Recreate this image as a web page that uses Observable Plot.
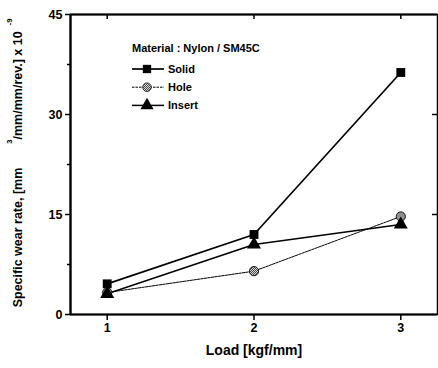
<!DOCTYPE html>
<html><head><meta charset="utf-8">
<script src="https://cdn.jsdelivr.net/npm/d3@7"></script>
<script src="https://cdn.jsdelivr.net/npm/@observablehq/plot@0.6"></script>
<style>body{margin:0;background:#fff}</style>
</head><body><div id="chart"></div>
<script>
// ---- data ----
const loads = [1, 2, 3];
const seriesNames = ["Solid", "Hole", "Insert"];
const solid = [4.6, 12.0, 36.3];
const hole = [3.3, 6.5, 14.7];
const insert = [3.1, 10.5, 13.5];
const yTicks = [0, 15, 30, 45];
const yMinorTicks = [7.5, 22.5, 37.5];
const yRightTicks = [15, 30];
const xTicks = [1, 2, 3];
const legendTitle = "Material : Nylon / SM45C";
const xLabel = "Load [kgf/mm]";
const yLabelMain = "Specific wear rate, [mm";
const yLabelSup1 = "3";
const yLabelMid = "/mm/mm/rev.] x 10";
const yLabelSup2 = "-9";

const values = {Solid: solid, Hole: hole, Insert: insert};
const rows = seriesNames.flatMap(s => loads.map((x, j) => ({series: s, load: x, rate: values[s][j]})));
const of = s => rows.filter(d => d.series === s);

const W = 438, H = 368, mL = 70, mR = 1, mT = 14, mB = 54;
const plotW = W - mL - mR, plotH = H - mT - mB;

const style = {
  Solid:  {symbol: "square",   fill: "black",       r: 5.0, lw: 1.7, dash: null},
  Hole:   {symbol: "circle",   fill: "url(#hatch)", r: 4.6, lw: 1.0, dash: "2.5,1"},
  Insert: {symbol: "triangle", fill: "black",       r: 5.2, lw: 1.5, dash: null}
};

function decorations(index, scales, vals, dims) {
  const g = d3.create("svg:g");
  const defs = g.append("defs");
  const pat = defs.append("pattern").attr("id", "hatch").attr("patternUnits", "userSpaceOnUse")
    .attr("width", 2).attr("height", 2);
  pat.append("rect").attr("width", 2).attr("height", 2).attr("fill", "#fff");
  pat.append("rect").attr("width", 1).attr("height", 1).attr("fill", "#222");
  pat.append("rect").attr("x", 1).attr("y", 1).attr("width", 1).attr("height", 1).attr("fill", "#222");

  // y axis label with superscripts
  const t = g.append("text")
    .attr("transform", "translate(22,163) rotate(-90)")
    .attr("text-anchor", "middle")
    .attr("font-size", 12.5).attr("font-weight", "bold").attr("fill", "#000");
  t.append("tspan").text(yLabelMain);
  t.append("tspan").attr("dx", 24).attr("dy", -10).attr("font-size", 7.5).text(yLabelSup1);
  t.append("tspan").attr("dy", 10).text(yLabelMid);
  t.append("tspan").attr("dx", 6).attr("dy", -10).attr("font-size", 7.5).text(yLabelSup2);

  // legend
  const lx = dims.marginLeft + 62, ly = dims.marginTop + 34;
  const lg = g.append("g").attr("font-size", 11).attr("font-weight", "bold")
    .attr("text-anchor", "start").attr("fill", "#000");
  lg.append("text").attr("x", lx).attr("y", ly).attr("dy", "0.35em").text(legendTitle);
  seriesNames.forEach((s, i) => {
    const y = ly + 21 + i * 18.2;
    const st = style[s];
    lg.append("line").attr("x1", lx).attr("x2", lx + 32).attr("y1", y).attr("y2", y)
      .attr("stroke", "black").attr("stroke-width", st.lw).attr("stroke-dasharray", st.dash);
    const sym = {square: d3.symbolSquare, circle: d3.symbolCircle, triangle: d3.symbolTriangle}[st.symbol];
    lg.append("path").attr("transform", `translate(${lx + 15},${y})`)
      .attr("d", d3.symbol(sym, Math.PI * (st.r - 0.3) ** 2)())
      .attr("fill", st.fill).attr("stroke", s === "Hole" ? "#111" : "none").attr("stroke-width", 0.8);
    lg.append("text").attr("x", lx + 36).attr("y", y).attr("dy", "0.35em").text(s);
  });
  return g.node();
}

const plot = Plot.plot({
  width: W, height: H,
  marginLeft: mL, marginRight: mR, marginTop: mT, marginBottom: mB,
  style: {fontFamily: "'Liberation Sans', Arial, sans-serif", fontWeight: "bold", fontSize: "12px", background: "#fff", color: "black"},
  x: {domain: [0.75, 3.25]},
  y: {domain: [0, 45]},
  marks: [
    decorations,
    Plot.frame({stroke: "black", strokeWidth: 1.5}),
    Plot.ruleX([0.75], {strokeWidth: 2.2}),
    Plot.ruleY([0], {strokeWidth: 2.2}),
    Plot.ruleY([45], {strokeWidth: 2}),
    Plot.axisY({ticks: yTicks, tickSize: 5, tickPadding: 3, label: null, fontSize: 12.5, strokeWidth: 1.5, tickFormat: d => String(d)}),
    Plot.axisY({ticks: yMinorTicks, tickSize: 3, tickFormat: () => "", label: null, strokeWidth: 1.5}),
    Plot.axisX({ticks: xTicks, tickSize: 6, tickPadding: 3, label: null, fontSize: 12.5, strokeWidth: 1.5, tickFormat: d => String(d)}),
    Plot.tickX(xTicks, {x: d => d, insetBottom: plotH - 5, strokeWidth: 1.5}),
    Plot.tickY(yRightTicks, {y: d => d, insetLeft: plotW - 5, strokeWidth: 1.5}),
    Plot.text([xLabel], {frameAnchor: "bottom", dy: 40, fontSize: 14, fontWeight: "bold"}),
    ...seriesNames.map(s => Plot.line(of(s), {x: "load", y: "rate", stroke: "black",
      strokeWidth: style[s].lw, strokeDasharray: style[s].dash})),
    ...seriesNames.map(s => Plot.dot(of(s), {x: "load", y: "rate", symbol: () => style[s].symbol,
      r: style[s].r, fill: style[s].fill, stroke: s === "Hole" ? "#111" : "none", strokeWidth: 1}))
  ]
});
document.getElementById("chart").appendChild(plot);
</script>
</body></html>
